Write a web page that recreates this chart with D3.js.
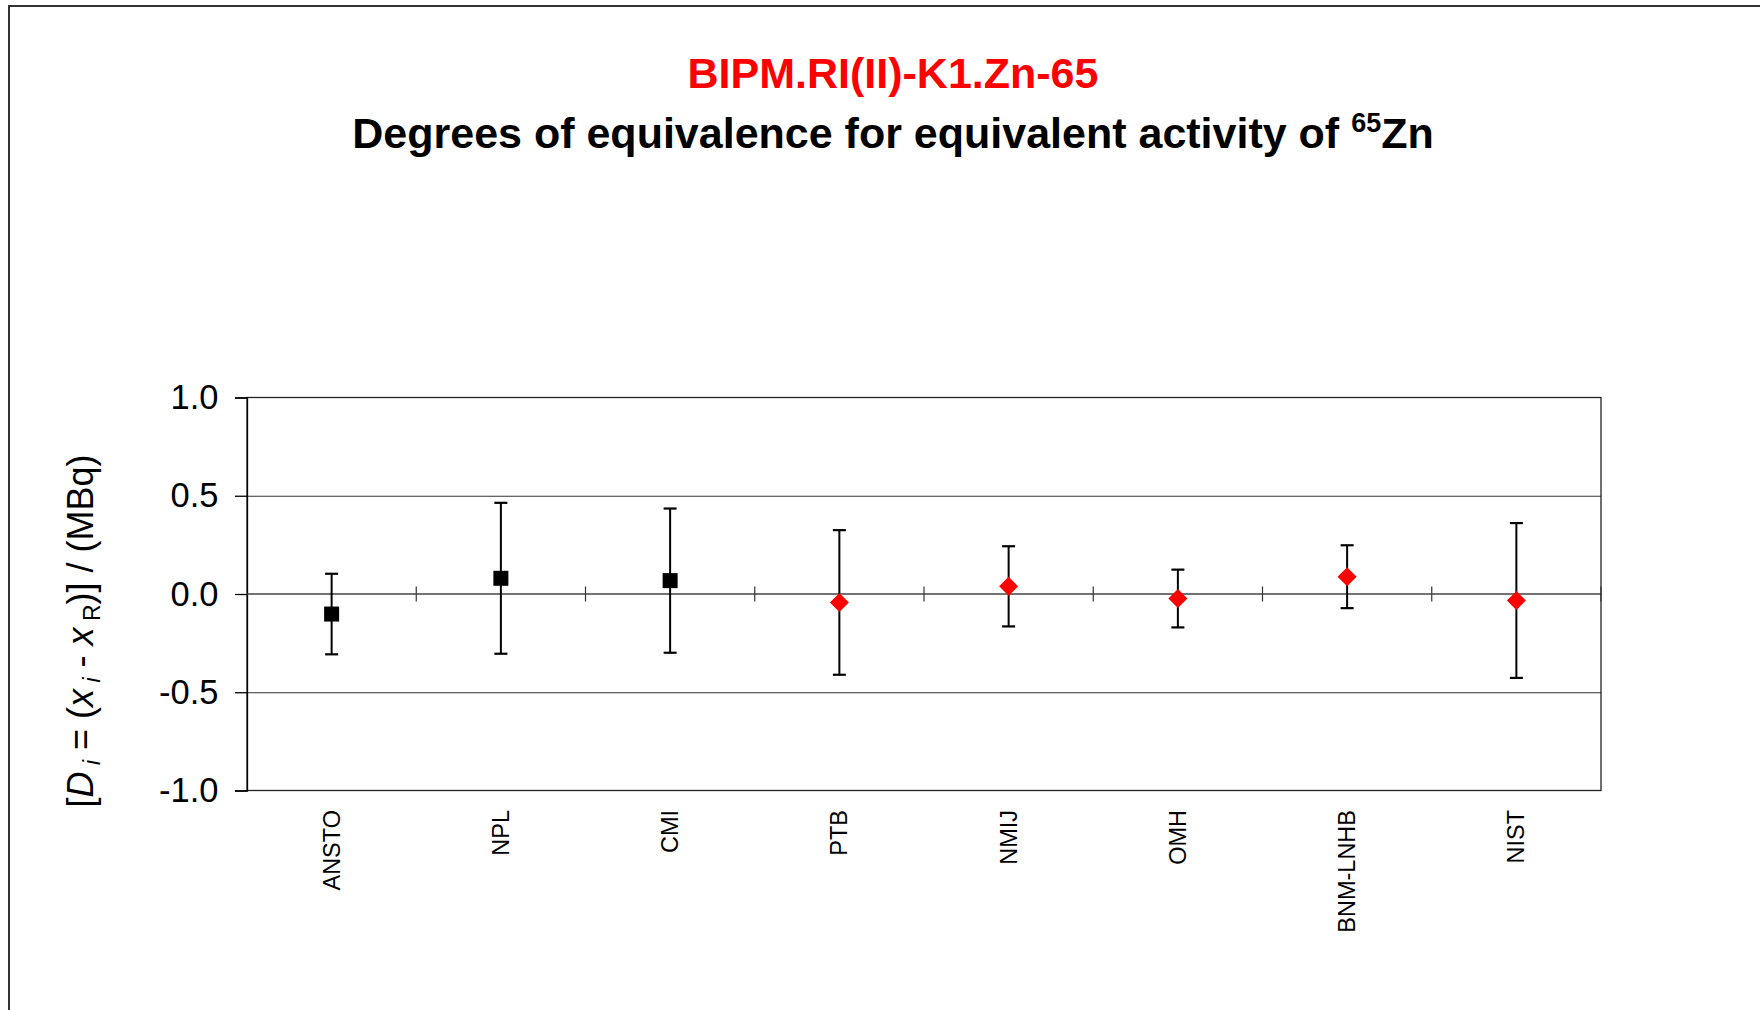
<!DOCTYPE html>
<html lang="en">
<head>
    <meta charset="UTF-8">
    <title>BIPM.RI(II)-K1.Zn-65</title>
    <style>
        body {
            margin: 0;
            overflow: hidden;
            background: white;
            font-family: 'Liberation Sans', Arial, sans-serif;
        }
    </style>
    <script src="https://d3js.org/d3.v7.min.js"></script>
</head>
<body>
    <div id="chart"></div>
    <script>
        // laboratories, degrees of equivalence and expanded uncertainties (MBq)
        const labs = ["ANSTO", "NPL", "CMI", "PTB", "NMIJ", "OMH", "BNM-LNHB", "NIST"];
        const di = [-0.102, 0.080, 0.068, -0.043, 0.039, -0.023, 0.088, -0.033];
        const ui = [0.205, 0.384, 0.367, 0.368, 0.204, 0.147, 0.160, 0.394];
        const markerType = ["square", "square", "square", "diamond", "diamond", "diamond", "diamond", "diamond"];
        const yTicks = [-1.0, -0.5, 0.0, 0.5, 1.0];

        const W = 1760, H = 1010;
        const plot = { left: 247, right: 1601, top: 397.5, bottom: 790.5 };

        const svg = d3.select("#chart")
            .append("svg")
            .attr("width", W)
            .attr("height", H)
            .style("font-family", "'Liberation Sans', Arial, sans-serif");

        // outer chart frame
        svg.append("rect")
            .attr("x", 9)
            .attr("y", 6)
            .attr("width", 1800)
            .attr("height", 1100)
            .attr("fill", "none")
            .attr("stroke", "#333")
            .attr("stroke-width", 2);

        // titles
        svg.append("text")
            .attr("x", 893)
            .attr("y", 88)
            .attr("text-anchor", "middle")
            .attr("font-size", "43px")
            .attr("font-weight", "bold")
            .attr("fill", "#ff0000")
            .text("BIPM.RI(II)-K1.Zn-65");

        const t2 = svg.append("text")
            .attr("x", 893)
            .attr("y", 148)
            .attr("text-anchor", "middle")
            .attr("font-size", "43px")
            .attr("font-weight", "bold")
            .attr("fill", "black");
        t2.append("tspan").text("Degrees of equivalence for equivalent activity of ");
        t2.append("tspan").attr("font-size", "27px").attr("dy", -16).text("65");
        t2.append("tspan").attr("dy", 16).text("Zn");

        const x = d3.scaleBand()
            .domain(labs)
            .range([plot.left, plot.right])
            .padding(0);

        const y = d3.scaleLinear()
            .domain([-1, 1])
            .range([plot.bottom, plot.top]);

        // horizontal gridlines
        svg.append("g")
            .attr("transform", `translate(${plot.left},0)`)
            .call(d3.axisLeft(y).tickValues([-0.5, 0.5]).tickSize(-(plot.right - plot.left)).tickFormat(""))
            .call(g => g.select(".domain").remove())
            .call(g => g.selectAll("line").attr("stroke", "#333").attr("stroke-width", 1.2));

        // plot frame
        svg.append("rect")
            .attr("x", plot.left)
            .attr("y", plot.top)
            .attr("width", plot.right - plot.left)
            .attr("height", plot.bottom - plot.top)
            .attr("fill", "none")
            .attr("stroke", "#222")
            .attr("stroke-width", 1.3);

        // y axis (hyphen as minus sign, like the original)
        const yAxis = svg.append("g")
            .attr("transform", `translate(${plot.left},0)`)
            .call(d3.axisLeft(y).tickValues(yTicks).tickSize(12).tickPadding(16.5)
                .tickFormat(d => d.toFixed(1)));
        yAxis.select(".domain").attr("stroke", "black").attr("stroke-width", 1.3);
        yAxis.selectAll("line").attr("stroke", "black").attr("stroke-width", 1.3);
        yAxis.selectAll("text")
            .attr("font-size", "34.5px")
            .attr("fill", "black")
            .style("font-family", "'Liberation Sans', Arial, sans-serif");

        // x axis through zero, ticks crossing between categories
        const bounds = labs.map(d => x(d)).slice(1).concat([plot.right]);
        svg.append("line")
            .attr("x1", plot.left)
            .attr("x2", plot.right)
            .attr("y1", y(0))
            .attr("y2", y(0))
            .attr("stroke", "#444")
            .attr("stroke-width", 1.3);
        svg.selectAll(".xtick")
            .data(bounds)
            .enter()
            .append("line")
            .attr("class", "xtick")
            .attr("x1", d => d)
            .attr("x2", d => d)
            .attr("y1", y(0) - 7.5)
            .attr("y2", y(0) + 7.5)
            .attr("stroke", "#333")
            .attr("stroke-width", 1.2);

        // category labels
        svg.selectAll(".xlab")
            .data(labs)
            .enter()
            .append("text")
            .attr("class", "xlab")
            .attr("transform", d => `translate(${x(d) + x.bandwidth() / 2},810) rotate(-90)`)
            .attr("text-anchor", "end")
            .attr("dominant-baseline", "central")
            .attr("font-size", "23.5px")
            .attr("fill", "black")
            .text(d => d);

        // y axis title
        const yt = svg.append("text")
            .attr("transform", "translate(93,631) rotate(-90)")
            .attr("text-anchor", "middle")
            .attr("font-size", "36px")
            .attr("fill", "black");
        yt.append("tspan").text("[");
        yt.append("tspan").attr("font-style", "italic").text("D");
        yt.append("tspan").attr("font-style", "italic").attr("font-size", "23px").attr("dy", 7).text(" i");
        yt.append("tspan").attr("dy", -7).text(" = (");
        yt.append("tspan").attr("font-style", "italic").text("x");
        yt.append("tspan").attr("font-style", "italic").attr("font-size", "23px").attr("dy", 7).text(" i");
        yt.append("tspan").attr("dy", -7).text(" - ");
        yt.append("tspan").attr("font-style", "italic").text("x");
        yt.append("tspan").attr("font-size", "23px").attr("dy", 7).text(" R");
        yt.append("tspan").attr("dy", -7).text(")] / (MBq)");

        // error bars
        const pts = labs.map((d, i) => ({ lab: d, v: di[i], u: ui[i], m: markerType[i] }));
        const cx = d => x(d.lab) + x.bandwidth() / 2;
        const bars = svg.append("g");
        bars.selectAll(".stem")
            .data(pts)
            .enter()
            .append("line")
            .attr("x1", cx)
            .attr("x2", cx)
            .attr("y1", d => y(d.v + d.u))
            .attr("y2", d => y(d.v - d.u))
            .attr("stroke", "black")
            .attr("stroke-width", 2);
        [1, -1].forEach(s => {
            bars.selectAll(".cap" + s)
                .data(pts)
                .enter()
                .append("line")
                .attr("x1", d => cx(d) - 6.5)
                .attr("x2", d => cx(d) + 6.5)
                .attr("y1", d => y(d.v + s * d.u))
                .attr("y2", d => y(d.v + s * d.u))
                .attr("stroke", "black")
                .attr("stroke-width", 2.2);
        });

        // markers
        svg.selectAll(".sq")
            .data(pts.filter(d => d.m === "square"))
            .enter()
            .append("rect")
            .attr("x", d => cx(d) - 7.5)
            .attr("y", d => y(d.v) - 7.5)
            .attr("width", 15)
            .attr("height", 15)
            .attr("fill", "black");

        svg.selectAll(".dm")
            .data(pts.filter(d => d.m === "diamond"))
            .enter()
            .append("path")
            .attr("d", d => {
                const px = cx(d), py = y(d.v), r = 9.5;
                return `M${px},${py - r}L${px + r},${py}L${px},${py + r}L${px - r},${py}Z`;
            })
            .attr("fill", "#ff0000");
    </script>
</body>
</html>
